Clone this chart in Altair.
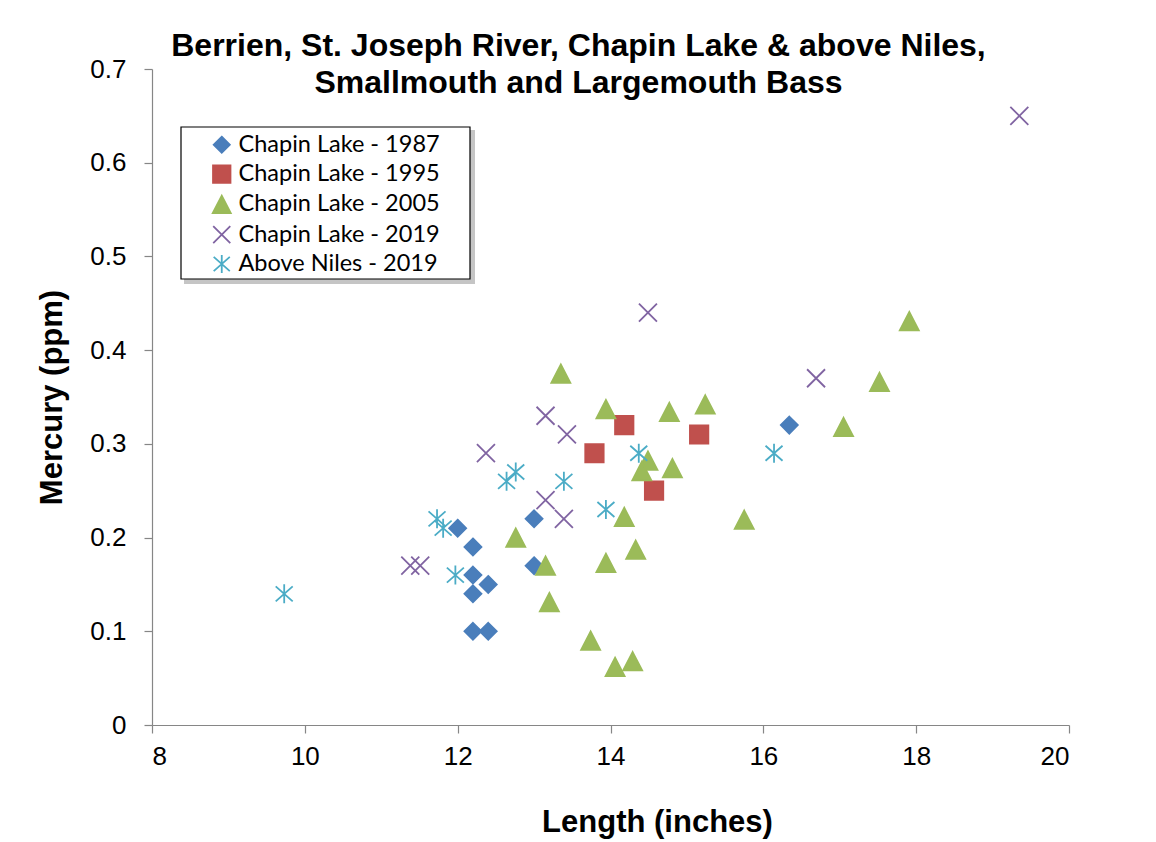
import altair as alt
import pandas as pd

series_names = ["Chapin Lake - 1987", "Chapin Lake - 1995", "Chapin Lake - 2005",
                "Chapin Lake - 2019", "Above Niles - 2019"]

x_1987 = [12.0, 12.2, 12.2, 12.4, 12.2, 12.2, 12.4, 13.0, 13.0, 16.34]
y_1987 = [0.21, 0.19, 0.16, 0.15, 0.14, 0.10, 0.10, 0.22, 0.17, 0.32]

x_1995 = [14.18, 13.79, 15.16, 14.57]
y_1995 = [0.32, 0.29, 0.31, 0.25]

x_2005 = [13.35, 13.94, 14.77, 15.24, 14.49, 14.41, 14.81, 14.18, 15.75, 12.76,
          14.33, 13.94, 13.15, 13.2, 13.74, 14.29, 14.06, 17.91, 17.52, 17.05]
y_2005 = [0.375, 0.337, 0.334, 0.342, 0.282, 0.271, 0.274, 0.222, 0.219, 0.20,
          0.187, 0.173, 0.170, 0.131, 0.090, 0.068, 0.062, 0.431, 0.366, 0.318]

x_2019 = [19.35, 14.49, 16.69, 13.15, 13.43, 13.15, 13.39, 12.37, 11.38, 11.51]
y_2019 = [0.65, 0.44, 0.37, 0.33, 0.31, 0.24, 0.22, 0.29, 0.17, 0.17]

x_niles = [9.73, 11.73, 11.81, 11.97, 12.76, 12.64, 13.39, 13.94, 14.37, 16.14]
y_niles = [0.14, 0.22, 0.21, 0.16, 0.27, 0.26, 0.26, 0.23, 0.29, 0.29]

x_ticks = [8, 10, 12, 14, 16, 18, 20]
y_ticks = [0, 0.1, 0.2, 0.3, 0.4, 0.5, 0.6, 0.7]

colors = ["#4A7EBB", "#C0504D", "#9BBB59", "#8064A2", "#4BACC6"]
shapes = [
    "M0,-0.85L0.85,0L0,0.85L-0.85,0Z",
    "M-0.92,-0.92L0.92,-0.92L0.92,0.92L-0.92,0.92Z",
    "M0,-0.92L0.95,0.92L-0.95,0.92Z",
    "M-0.9,-0.9L0.9,0.9M0.9,-0.9L-0.9,0.9",
    "M-0.85,-0.75L0.85,0.75M0.85,-0.75L-0.85,0.75M0,-0.95L0,0.95",
]

rows = []
for name, xs, ys in zip(series_names,
                        [x_1987, x_1995, x_2005, x_2019, x_niles],
                        [y_1987, y_1995, y_2005, y_2019, y_niles]):
    for xv, yv in zip(xs, ys):
        rows.append({"series": name, "length": xv, "mercury": yv})
df = pd.DataFrame(rows)

TITLE_FONT = "Liberation Sans"
AX_FONT = "Liberation Sans"

leg = alt.Legend(
    title=None, orient="none", legendX=58, legendY=64,
    labelFont="Lato", labelFontSize=23.5, labelColor="black", labelLimit=400,
    symbolSize=360, symbolStrokeWidth=1.8, padding=0, rowPadding=4.3,
    labelOffset=5, fillColor=None, strokeColor=None,
)

scale_fill = alt.Scale(domain=series_names, range=colors)
points = alt.Chart(df).mark_point(size=400, strokeWidth=1.8, opacity=1, filled=True).encode(
    x=alt.X("length:Q", scale=alt.Scale(domain=[8, 20], nice=False, zero=False),
            axis=alt.Axis(values=x_ticks, title="Length (inches)", format="d",
                          titleX=505, titleY=97, titleBaseline="middle")),
    y=alt.Y("mercury:Q", scale=alt.Scale(domain=[0, 0.7], nice=False),
            axis=alt.Axis(values=y_ticks, title="Mercury (ppm)", format=".1~f",
                          titleX=-100, titleY=328, titleBaseline="middle", titleAngle=270)),
    shape=alt.Shape("series:N", scale=alt.Scale(domain=series_names, range=shapes), legend=leg),
    fill=alt.Fill("series:N", scale=scale_fill, legend=leg),
    stroke=alt.Stroke("series:N", scale=scale_fill, legend=leg),
    order=alt.Order("idx:Q"),
).transform_calculate(idx="indexof(%s, datum.series)" % str(series_names))

box_df = pd.DataFrame({"k": [0]})
shadow = alt.Chart(box_df).mark_rect(color="#7f7f7f", opacity=0.45).encode(
    x=alt.value(32), x2=alt.value(323), y=alt.value(61), y2=alt.value(215))
box = alt.Chart(box_df).mark_rect(fill="white", stroke="black", strokeWidth=1.2).encode(
    x=alt.value(29), x2=alt.value(318), y=alt.value(58), y2=alt.value(210))

chart = alt.layer(shadow, box, points).properties(
    width=917, height=656,
    title=alt.TitleParams(
        text=["Berrien, St. Joseph River, Chapin Lake & above Niles,",
              "Smallmouth and Largemouth Bass"],
        font=TITLE_FONT, fontSize=32, fontWeight="bold", color="black",
        anchor="middle", dx=-32, dy=44, lineHeight=37, offset=0),
    autosize=alt.AutoSizeParams(type="none"),
    padding={"left": 144, "top": 61, "right": 70, "bottom": 115},
).configure_view(stroke=None).configure_axis(
    grid=False, domainColor="#868686", tickColor="#868686", domainWidth=1.2, tickWidth=1.2,
    tickSize=8, labelFont=AX_FONT, labelFontSize=26, labelColor="black",
    titleFont=TITLE_FONT, titleFontSize=31, titleFontWeight="bold", titleColor="black",
).configure_axisX(labelPadding=10).configure_axisY(labelPadding=18)

chart.save("out.html", embed_options={"renderer": "svg", "actions": False})
